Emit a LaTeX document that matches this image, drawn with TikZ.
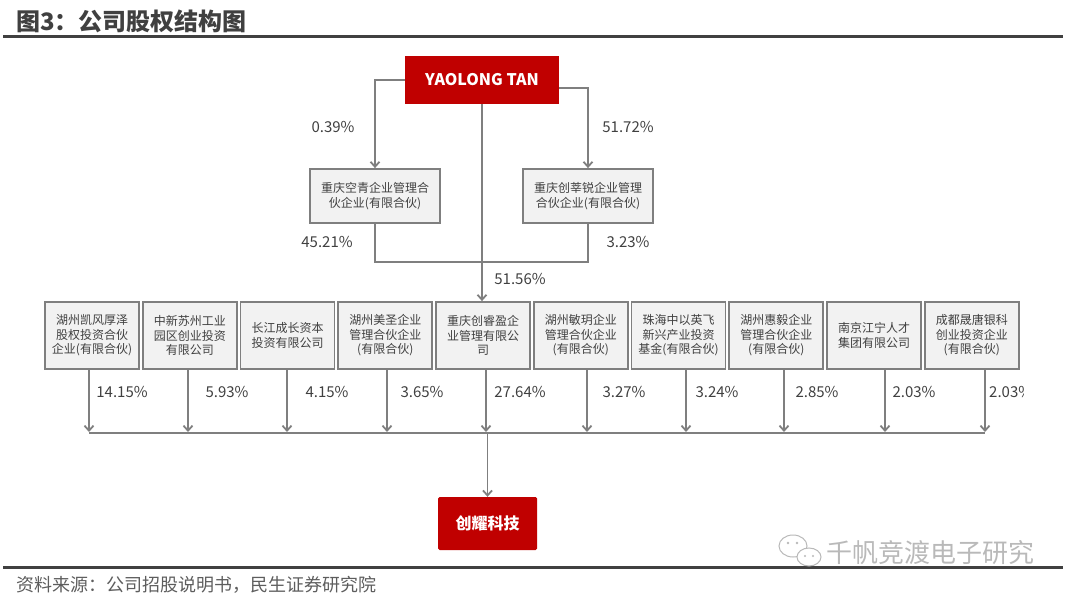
\documentclass[tikz,border=0pt]{standalone}
\usepackage{fontspec}
\setmainfont{Noto Sans CJK SC}
\usetikzlibrary{arrows.meta,calc}

\definecolor{zred}{HTML}{C00000}
\definecolor{zgray}{HTML}{7F7F7F}
\definecolor{ztext}{HTML}{404040}
\definecolor{zbox}{HTML}{F2F2F2}

\begin{document}
\begin{tikzpicture}[x=1pt, y=-1pt,
  hold/.style={draw=zgray, line width=1.8pt, fill=zbox, align=center, text=ztext,
    font=\fontsize{12}{14.5}\selectfont, inner sep=0pt},
  redbox/.style={fill=zred, text=white, font=\bfseries\fontsize{16}{18}\selectfont, inner sep=0pt},
  link/.style={draw=zgray, line width=1.8pt},
  arr/.style={link, -{Straight Barb[length=5pt,width=9pt]}},
  pct/.style={text=ztext, font=\fontsize{15}{18}\selectfont, inner sep=0pt}]
  \useasboundingbox (0,0) rectangle (1080,602);

  % 标题
  \node[anchor=west, text=ztext, font=\bfseries\fontsize{24}{28}\selectfont, inner sep=0pt]
    (title) at (16,21) {图3：公司股权结构图};
  \draw[ztext, line width=3pt] (3,37) -- (1063,37);

  % 实际控制人及持股平台
  \node[redbox, minimum width=154pt, minimum height=48pt] (yt) at (482,80) {YAOLONG TAN};
  \node[hold, minimum width=130pt, minimum height=54pt] (kq) at (375,196)
    {重庆空青企业管理合\\伙企业(有限合伙)};
  \node[hold, minimum width=130pt, minimum height=54pt] (cx) at (588,196)
    {重庆创莘锐企业管理\\合伙企业(有限合伙)};

  % 股东一排
  \foreach \i/\t in {1/{湖州凯风厚泽\\股权投资合伙\\企业(有限合伙)},
                     2/{中新苏州工业\\园区创业投资\\有限公司},
                     3/{长江成长资本\\投资有限公司},
                     4/{湖州美圣企业\\管理合伙企业\\(有限合伙)},
                     5/{重庆创睿盈企\\业管理有限公\\司},
                     6/{湖州敏玥企业\\管理合伙企业\\(有限合伙)},
                     7/{珠海中以英飞\\新兴产业投资\\基金(有限合伙)},
                     8/{湖州惠毅企业\\管理合伙企业\\(有限合伙)},
                     9/{南京江宁人才\\集团有限公司},
                     10/{成都晟唐银科\\创业投资企业\\(有限合伙)}}
    \node[hold, minimum width=94pt, minimum height=67pt] (b\i) at ({92+97.75*(\i-1)},335.5) {\t};

  % 上层连线
  \draw[arr] (yt.west) -| (kq.north);
  \draw[arr] ([yshift=-8pt]yt.east) -| (cx.north);
  \coordinate (mid) at (482,262);
  \draw[link] (kq.south) |- (mid) -| (cx.south);
  \draw[arr] (yt.south) -- (yt.south |- b5.north);

  \node[pct] (l1) at (333,127) {0.39\%};
  \node[pct] (l2) at (628,127) {51.72\%};
  \node[pct] (l3) at (327,242) {45.21\%};
  \node[pct] (l4) at (628,242) {3.23\%};
  \node[pct] (l5) at (520,279) {51.56\%};

  % 汇总线
  \coordinate (busL) at (89,433);
  \coordinate (busR) at (985,433);
  \draw[link] (busL) -- (busR);
  \foreach \i/\ax in {1/89,2/188,3/287,4/387,5/486,6/587,7/686,8/784,9/885,10/985} {
    \pgfmathsetmacro{\dx}{\ax-92-97.75*(\i-1)}
    \coordinate (t\i) at ([xshift=\dx pt]b\i.south);
    \draw[arr, shorten >=1pt] (t\i) -- (t\i |- busL);
  }
  \foreach \i/\lx/\v in {1/122/14.15, 2/227/5.93, 3/327/4.15, 4/422/3.65, 5/520/27.64,
                         6/624/3.27, 7/717/3.24, 8/817/2.85, 9/914/2.03}
    \node[pct] (p\i) at (\lx,392) {\v\%};
  \begin{scope}
    \clip (0,0) rectangle (1023,602);
    \node[pct, anchor=west] (p10) at (989,392) {2.03\%};
  \end{scope}

  % 发行人
  \node[redbox, minimum width=99pt, minimum height=53pt, rounded corners=1.5pt] (cy) at (487.5,523.5) {创耀科技};
  \coordinate (busM) at (cy.north |- busL);
  \draw[arr] (busM) -- (cy.north);

  % 底部
  \draw[ztext, line width=3pt] (3,567) -- (1063,567);
  \node[anchor=west, text=ztext!85, font=\fontsize{18}{20}\selectfont, inner sep=0pt]
    (src) at (16,585) {资料来源：公司招股说明书，民生证券研究院};

  % 水印
  \draw[gray!55, line width=1pt, fill=white] (793,546) ellipse (14 and 11);
  \draw[gray!55, line width=1pt, fill=white] (809,557) ellipse (12 and 9);
  \fill[gray!55] (788,543) circle (1.3) (797,543) circle (1.3) (805,556) circle (1.2) (813,556) circle (1.2);
  \node[anchor=west, text=gray!55, font=\fontsize{26}{28}\selectfont, inner sep=0pt]
    (wm) at (826,553) {千帆竞渡电子研究};
\end{tikzpicture}
\end{document}
